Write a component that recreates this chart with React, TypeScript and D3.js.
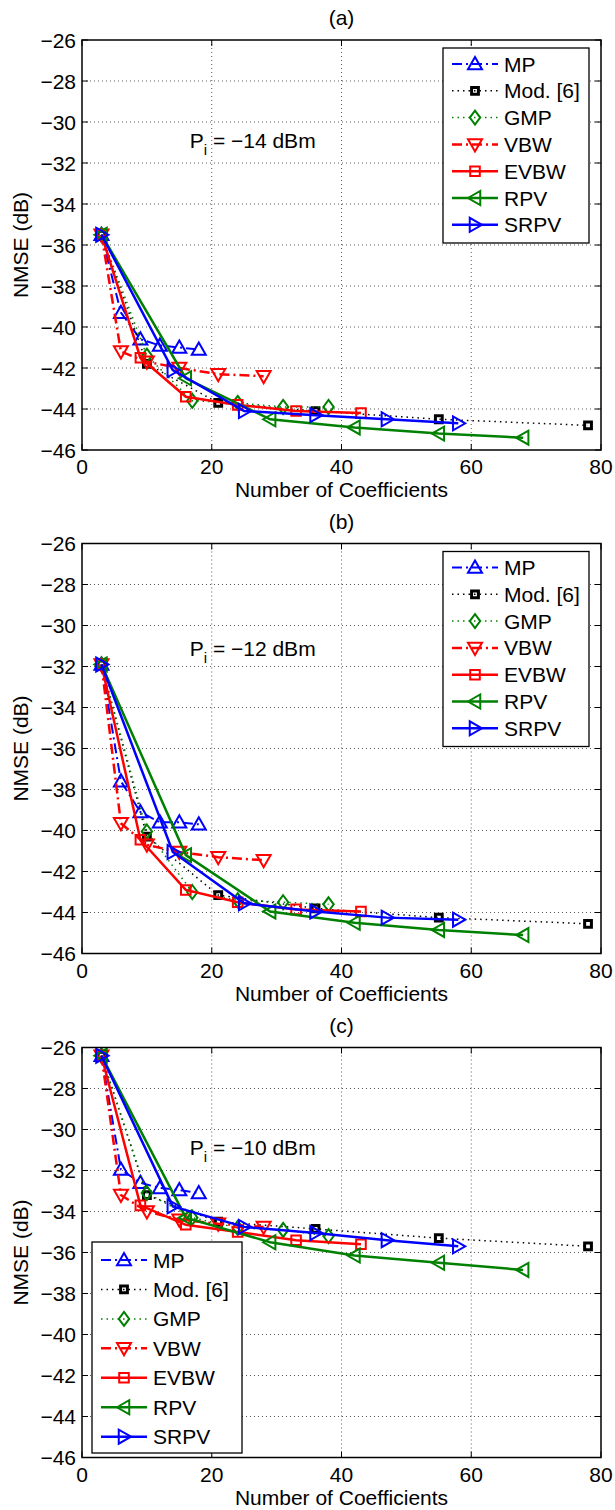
import React from 'react';
import * as d3 from 'd3';

// ---------- data ----------
const panelLabels = ['(a)', '(b)', '(c)'];
const powerLabels = ['−14', '−12', '−10'];
const seriesNames = ['MP', 'Mod. [6]', 'GMP', 'VBW', 'EVBW', 'RPV', 'SRPV'];

const xMP = [3, 6, 9, 12, 15, 18];
const xMod = [3, 10, 21, 36, 55, 78];
const xGMP = [3, 10, 17, 24, 31, 38];
const xVBW = [3, 6, 10, 15, 21, 28];
const xEVBW = [3, 9, 16, 24, 33, 43];
const xRPV = [3, 16, 29, 42, 55, 68];
const xSRPV = [3, 14, 25, 36, 47, 58];

// panel (a)  Pi = -14 dBm
const mpA = [-35.5, -39.3, -40.6, -40.9, -41.0, -41.1];
const modA = [-35.5, -41.8, -43.7, -44.1, -44.5, -44.8];
const gmpA = [-35.5, -41.4, -43.6, -43.7, -43.9, -43.9];
const vbwA = [-35.5, -41.2, -41.7, -42.0, -42.3, -42.4];
const evbwA = [-35.5, -41.5, -43.4, -43.8, -44.1, -44.2];
const rpvA = [-35.5, -42.5, -44.5, -44.9, -45.2, -45.4];
const srpvA = [-35.5, -42.1, -44.1, -44.3, -44.5, -44.7];

// panel (b)  Pi = -12 dBm
const mpB = [-31.9, -37.6, -39.1, -39.6, -39.6, -39.7];
const modB = [-31.9, -40.3, -43.15, -43.8, -44.25, -44.55];
const gmpB = [-31.9, -40.05, -43.0, -43.4, -43.5, -43.6];
const vbwB = [-31.9, -39.65, -40.7, -41.05, -41.3, -41.45];
const evbwB = [-31.9, -40.45, -42.9, -43.5, -43.85, -43.95];
const rpvB = [-31.9, -41.2, -43.95, -44.5, -44.85, -45.1];
const srpvB = [-31.9, -41.05, -43.55, -43.95, -44.25, -44.35];

// panel (c)  Pi = -10 dBm
const mpC = [-26.4, -31.95, -32.6, -32.85, -32.95, -33.1];
const modC = [-26.4, -33.2, -34.5, -34.85, -35.3, -35.7];
const gmpC = [-26.4, -33.1, -34.3, -34.8, -34.9, -35.2];
const vbwC = [-26.4, -33.2, -34.0, -34.4, -34.6, -34.75];
const evbwC = [-26.4, -33.7, -34.65, -35.0, -35.4, -35.6];
const rpvC = [-26.4, -34.3, -35.5, -36.15, -36.5, -36.85];
const srpvC = [-26.4, -33.75, -34.75, -35.05, -35.4, -35.7];

const xTicks = [0, 20, 40, 60, 80];
const yTicks = [-46, -44, -42, -40, -38, -36, -34, -32, -30, -28, -26];
// annotation anchor (x in coefficients, y in dB) per panel
const annotX = [16.6, 16.6, 16.6];
const annotY = [-31.25, -31.5, -31.25];

// ---------- styles ----------
type Mk = 'up' | 'down' | 'left' | 'right' | 'square' | 'smallsquare' | 'diamond';
interface Style { color: string; dash: string; width: number; marker: Mk; }
const styles: Style[] = [
  { color: '#0000ff', dash: '10,4,2,4', width: 2, marker: 'up' },
  { color: '#000000', dash: '1.5,4', width: 1.5, marker: 'smallsquare' },
  { color: '#008000', dash: '1.5,4', width: 1.5, marker: 'diamond' },
  { color: '#ff0000', dash: '10,4,2,4', width: 2.5, marker: 'down' },
  { color: '#ff0000', dash: '', width: 2.5, marker: 'square' },
  { color: '#008000', dash: '', width: 2.5, marker: 'left' },
  { color: '#0000ff', dash: '', width: 2.5, marker: 'right' },
];

const xsAll = [xMP, xMod, xGMP, xVBW, xEVBW, xRPV, xSRPV];
const panelsY = [
  [mpA, modA, gmpA, vbwA, evbwA, rpvA, srpvA],
  [mpB, modB, gmpB, vbwB, evbwB, rpvB, srpvB],
  [mpC, modC, gmpC, vbwC, evbwC, rpvC, srpvC],
];

// ---------- layout ----------
const W = 615, H = 1510;
const X0 = 82, X1 = 601, PH = 410;
const tops = [40, 543.5, 1047.5];
const legends = [
  { x: 443, y: 48, w: 146, h: 195, r0: 16, step: 26.8 },
  { x: 443, y: 551.5, w: 146, h: 195, r0: 16, step: 26.8 },
  { x: 92, y: 1242, w: 150, h: 211, r0: 18, step: 29.45 },
];
const FONT = '"Liberation Sans", Arial, Helvetica, sans-serif';
const FS = 21;

function markerPath(m: Mk): string {
  const s = 7;
  switch (m) {
    case 'up': return `M0,${-s} L${s},${s * 0.75} L${-s},${s * 0.75} Z`;
    case 'down': return `M0,${s} L${s},${-s * 0.75} L${-s},${-s * 0.75} Z`;
    case 'left': return `M${-s},0 L${s * 0.75},${-s} L${s * 0.75},${s} Z`;
    case 'right': return `M${s},0 L${-s * 0.75},${-s} L${-s * 0.75},${s} Z`;
    case 'square': return `M-4.8,-4.8 H4.8 V4.8 H-4.8 Z`;
    case 'smallsquare': return `M-3.4,-3.4 H3.4 V3.4 H-3.4 Z`;
    case 'diamond': return `M0,-7 L5.2,0 L0,7 L-5.2,0 Z`;
  }
}

function Marker({ x, y, st }: { x: number; y: number; st: Style }) {
  return (
    <path
      d={markerPath(st.marker)}
      transform={`translate(${x},${y})`}
      fill="none"
      stroke={st.color}
      strokeWidth={st.marker === 'smallsquare' ? 3 : 2}
    />
  );
}

function Panel({ idx }: { idx: number }) {
  const top = tops[idx];
  const bottom = top + PH;
  const x = d3.scaleLinear().domain([0, 80]).range([X0, X1]);
  const y = d3.scaleLinear().domain([-46, -26]).range([bottom, top]);
  const line = d3.line<[number, number]>().x(d => x(d[0])).y(d => y(d[1]));
  const lg = legends[idx];
  const tick = 6;
  return (
    <g>
      <text x={(X0 + X1) / 2} y={top - 15} textAnchor="middle" fontSize={FS} fontFamily={FONT}>{panelLabels[idx]}</text>
      {/* grid */}
      {xTicks.slice(1, -1).map(t => (
        <line key={'gx' + t} x1={x(t)} x2={x(t)} y1={top} y2={bottom} stroke="#333" strokeWidth={0.8} strokeDasharray="1,3" />
      ))}
      {yTicks.slice(1, -1).map(t => (
        <line key={'gy' + t} x1={X0} x2={X1} y1={y(t)} y2={y(t)} stroke="#333" strokeWidth={0.8} strokeDasharray="1,3" />
      ))}
      {/* series */}
      {styles.map((st, si) => {
        const pts: [number, number][] = xsAll[si].map((xv, i) => [xv, panelsY[idx][si][i]]);
        return (
          <g key={si}>
            <path d={line(pts) || ''} fill="none" stroke={st.color} strokeWidth={st.width} strokeDasharray={st.dash || undefined} />
            {pts.map((p, i) => <Marker key={i} x={x(p[0])} y={y(p[1])} st={st} />)}
          </g>
        );
      })}
      {/* axes box */}
      <rect x={X0} y={top} width={X1 - X0} height={PH} fill="none" stroke="#000" strokeWidth={1.5} />
      {xTicks.map(t => (
        <g key={'xt' + t}>
          <line x1={x(t)} x2={x(t)} y1={bottom} y2={bottom - tick} stroke="#000" strokeWidth={1} />
          <line x1={x(t)} x2={x(t)} y1={top} y2={top + tick} stroke="#000" strokeWidth={1} />
          <text x={x(t)} y={bottom + 24} textAnchor="middle" fontSize={FS} fontFamily={FONT}>{t}</text>
        </g>
      ))}
      {yTicks.map(t => (
        <g key={'yt' + t}>
          <line x1={X0} x2={X0 + tick} y1={y(t)} y2={y(t)} stroke="#000" strokeWidth={1} />
          <line x1={X1} x2={X1 - tick} y1={y(t)} y2={y(t)} stroke="#000" strokeWidth={1} />
          <text x={X0 - 6} y={y(t) + 7.5} textAnchor="end" fontSize={FS} fontFamily={FONT}>{t < 0 ? '−' + Math.abs(t) : t}</text>
        </g>
      ))}
      <text x={(X0 + X1) / 2} y={bottom + 47} textAnchor="middle" fontSize={FS} fontFamily={FONT}>Number of Coefficients</text>
      <text transform={`translate(28,${(top + bottom) / 2}) rotate(-90)`} textAnchor="middle" fontSize={FS} fontFamily={FONT}>NMSE (dB)</text>
      {/* annotation */}
      <text x={x(annotX[idx])} y={y(annotY[idx])} fontSize={FS} fontFamily={FONT}>
        P<tspan fontSize={15} dy={7}>i</tspan><tspan dy={-7}> = {powerLabels[idx]} dBm</tspan>
      </text>
      {/* legend */}
      <rect x={lg.x} y={lg.y} width={lg.w} height={lg.h} fill="#fff" stroke="#000" strokeWidth={1.3} />
      {styles.map((st, si) => {
        const ry = lg.y + lg.r0 + si * lg.step;
        return (
          <g key={'lg' + si}>
            <line x1={lg.x + 9} x2={lg.x + 55} y1={ry} y2={ry} stroke={st.color} strokeWidth={st.width} strokeDasharray={st.dash || undefined} />
            <Marker x={lg.x + 32} y={ry} st={st} />
            <text x={lg.x + 61} y={ry + 7.5} fontSize={FS} fontFamily={FONT}>{seriesNames[si]}</text>
          </g>
        );
      })}
    </g>
  );
}

export default function App() {
  return (
    <svg width={W} height={H} style={{ position: 'absolute', left: 0, top: 0, background: '#fff' }}>
      <rect x={0} y={0} width={W} height={H} fill="#fff" />
      {[0, 1, 2].map(i => <Panel key={i} idx={i} />)}
    </svg>
  );
}
